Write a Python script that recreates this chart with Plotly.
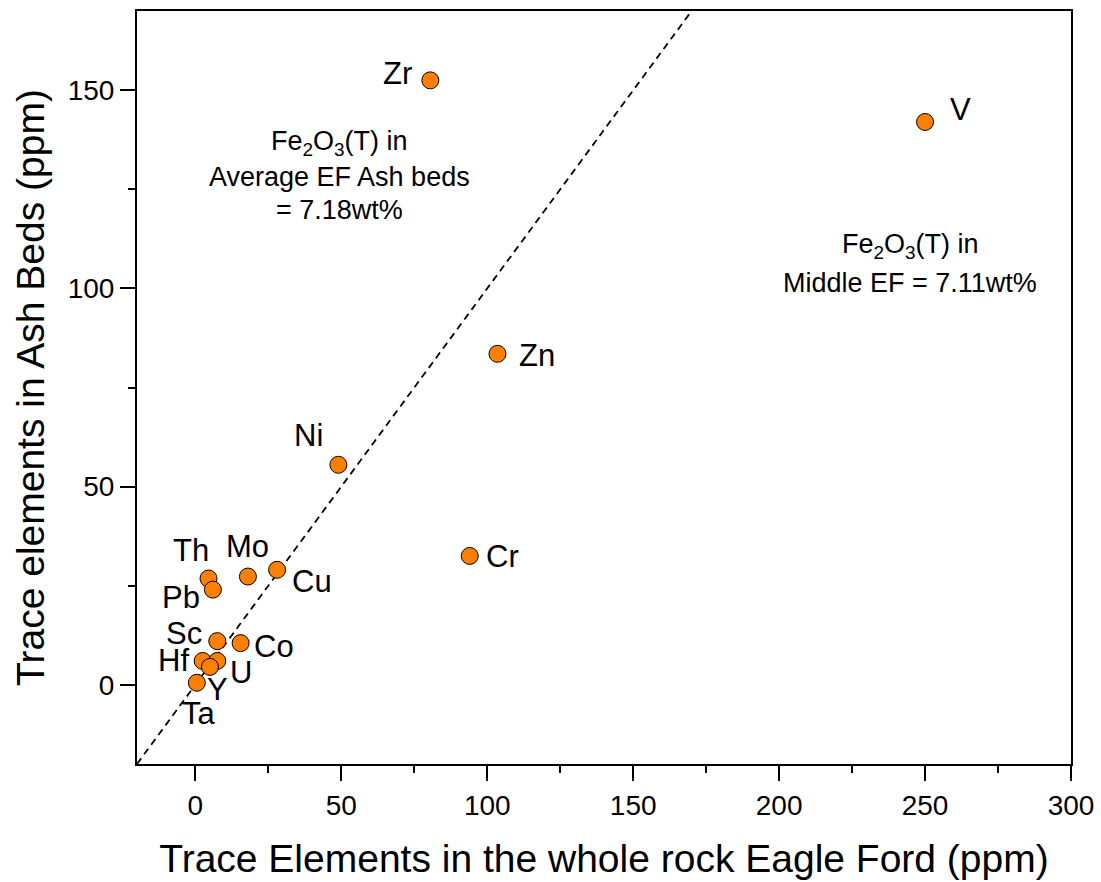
import plotly.graph_objects as go

# Trace element concentrations (ppm)
elements = ["Zr", "V", "Zn", "Ni", "Cr", "Th", "Pb", "Mo", "Cu", "Sc", "Co", "Hf", "U", "Y", "Ta"]
whole_rock_ef = [80.5, 250, 103.5, 49, 94, 4.5, 6, 18, 28, 7.5, 15.5, 2.5, 7.5, 5, 0.5]
ash_beds = [152.5, 142, 83.5, 55.5, 32.5, 26.8, 24, 27.3, 29, 11, 10.5, 6, 6, 4.5, 0.5]

# 1:1 reference line
ref_line = [-20, 300]

# Fe2O3(T) notes: one entry per text line, anchored in data units
ash_note_lines = ["Fe<sub>2</sub>O<sub>3</sub>(T) in", "Average EF Ash beds", "= 7.18wt%"]
ash_note_x = 49.5
ash_note_y = [136.6, 128.0, 119.7]
mid_note_lines = ["Fe<sub>2</sub>O<sub>3</sub>(T) in", "Middle EF = 7.11wt%"]
mid_note_x = 244.9
mid_note_y = [110.8, 101.4]

# pixel offsets of each element label from its marker
label_offsets = {
    "Zr": (-33, 7), "V": (35, 12), "Zn": (40, -2), "Ni": (-30, 29), "Cr": (33, -1),
    "Th": (-18, 28), "Pb": (-32, -8), "Mo": (0, 30), "Cu": (35, -12), "Sc": (-33, 8),
    "Co": (33, -3), "Hf": (-29, 0), "U": (24, -12), "Y": (8, -23), "Ta": (2, -31),
}

FONT = "Liberation Sans, Arial, sans-serif"

fig = go.Figure()
fig.add_trace(go.Scatter(
    x=ref_line, y=ref_line, mode="lines",
    line=dict(color="black", width=1.8, dash="7px,5px"),
    hoverinfo="skip", showlegend=False,
))
fig.add_trace(go.Scatter(
    x=whole_rock_ef, y=ash_beds, mode="markers",
    marker=dict(size=17, color="#FF8000", line=dict(color="black", width=1)),
    text=elements, showlegend=False,
))

annotations = []
for el, xv, yv in zip(elements, whole_rock_ef, ash_beds):
    dx, dy = label_offsets[el]
    annotations.append(dict(
        x=xv, y=yv, xref="x", yref="y", text=el, showarrow=False,
        xshift=dx, yshift=dy, font=dict(family=FONT, size=31, color="black"),
    ))

for line, yv in zip(ash_note_lines, ash_note_y):
    annotations.append(dict(
        x=ash_note_x, y=yv, xref="x", yref="y", text=line, showarrow=False,
        xanchor="center", yanchor="middle",
        font=dict(family=FONT, size=27, color="black"),
    ))
for line, yv in zip(mid_note_lines, mid_note_y):
    annotations.append(dict(
        x=mid_note_x, y=yv, xref="x", yref="y", text=line, showarrow=False,
        xanchor="center", yanchor="middle",
        font=dict(family=FONT, size=27, color="black"),
    ))

axis_common = dict(
    showgrid=False, zeroline=False, showline=True, linecolor="black", linewidth=2,
    mirror=True, ticks="outside", ticklen=15, tickwidth=2, tickcolor="black",
    tickfont=dict(family=FONT, size=28, color="black"), automargin=False,
    minor=dict(ticks="outside", ticklen=7, tickwidth=2, tickcolor="black", dtick=25),
)

fig.update_layout(
    width=1101, height=882,
    margin=dict(l=137, r=30, t=11, b=118),
    paper_bgcolor="white", plot_bgcolor="white",
    annotations=annotations,
    xaxis=dict(
        range=[-20, 300], tickvals=[0, 50, 100, 150, 200, 250, 300],
        title=dict(text="Trace Elements in the whole rock Eagle Ford (ppm)",
                   font=dict(family=FONT, size=39, color="black"), standoff=25),
        **axis_common,
    ),
    yaxis=dict(
        range=[-20, 170], tickvals=[0, 50, 100, 150],
        title=dict(text="Trace elements in Ash Beds (ppm)",
                   font=dict(family=FONT, size=39, color="black"), standoff=11),
        **axis_common,
    ),
)

fig.write_html("out.html")
